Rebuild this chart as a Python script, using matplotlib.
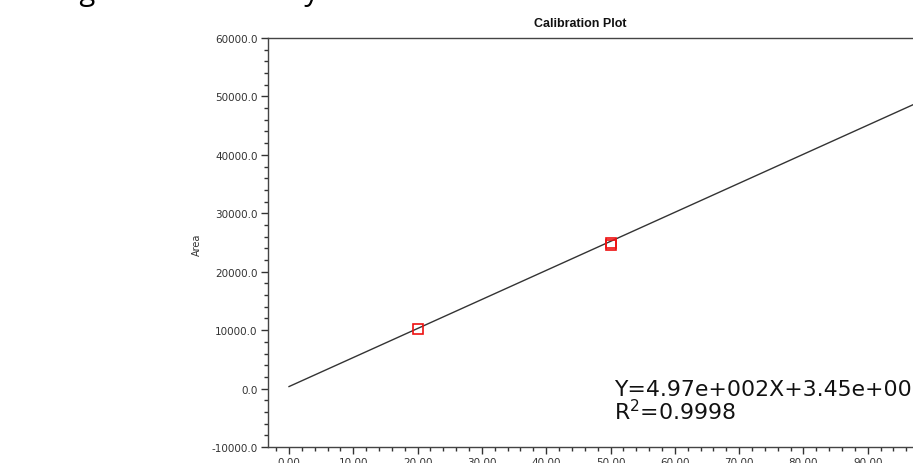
import matplotlib
matplotlib.use("Agg")
import matplotlib.pyplot as plt
from matplotlib.ticker import MultipleLocator, FormatStrFormatter
import numpy as np

# Data
conc = [20.0, 50.0, 50.0]
area = [10250.0, 24950.0, 24650.0]
slope = 497.0
intercept = 345.0
fit_x = [0.0, 104.0]
equation = "Y=4.97e+002X+3.45e+002"
r2_text = "R$^2$=0.9998"
title = "Calibration Plot"
ylabel = "Area"
heading = "Regression Linearity"

W, H = 913, 464
fig = plt.figure(figsize=(W / 100, H / 100), dpi=100)

# axes placed in pixel terms (right edge runs off the image like the reference)
left_px, top_px, bottom_px, right_px = 268, 39, 448, 953
ax = fig.add_axes([left_px / W, (H - bottom_px) / H,
                   (right_px - left_px) / W, (bottom_px - top_px) / H])

ax.set_xlim(-3.27, 103.27)
ax.set_ylim(-10000, 60000)

fy = [slope * x + intercept for x in fit_x]
ax.plot(fit_x, fy, color="#333333", lw=1.0, zorder=2)
ax.plot(conc, area, linestyle="none", marker="s", markersize=7,
        markerfacecolor="none", markeredgecolor="#ee1111", markeredgewidth=1.2,
        zorder=3)

ax.xaxis.set_major_locator(MultipleLocator(10))
ax.xaxis.set_minor_locator(MultipleLocator(2))
ax.yaxis.set_major_locator(MultipleLocator(10000))
ax.yaxis.set_minor_locator(MultipleLocator(2000))
ax.xaxis.set_major_formatter(FormatStrFormatter("%.2f"))
ax.yaxis.set_major_formatter(FormatStrFormatter("%.1f"))

ax.tick_params(axis="both", which="major", direction="out", length=5, width=1,
               color="#333333", labelsize=7.5, labelcolor="#333333", pad=2.5)
ax.tick_params(axis="both", which="minor", direction="out", length=3, width=1,
               color="#333333")
for s in ax.spines.values():
    s.set_color("#444444")
    s.set_linewidth(1.0)

fig.text(580 / W, 1 - 24 / H, title, ha="center", va="center",
         fontsize=9, fontweight="bold", family="Liberation Sans", color="#111111")
fig.text(197 / W, 1 - 245 / H, ylabel, ha="center", va="center", rotation=90,
         fontsize=7, color="#333333")

fig.text(614 / W, 1 - 390 / H, equation, ha="left", va="center",
         fontsize=15.8, color="#111111")
fig.text(614 / W, 1 - 412 / H, r2_text, ha="left", va="center",
         fontsize=15.8, color="#111111")

# cut-off heading above the chart (only descenders visible)
fig.text(45 / W, 1 + 0.0 / H, heading, ha="left", va="baseline",
         fontsize=21, family="Open Sans", color="#000000")

fig.savefig("out.png", dpi=100)
